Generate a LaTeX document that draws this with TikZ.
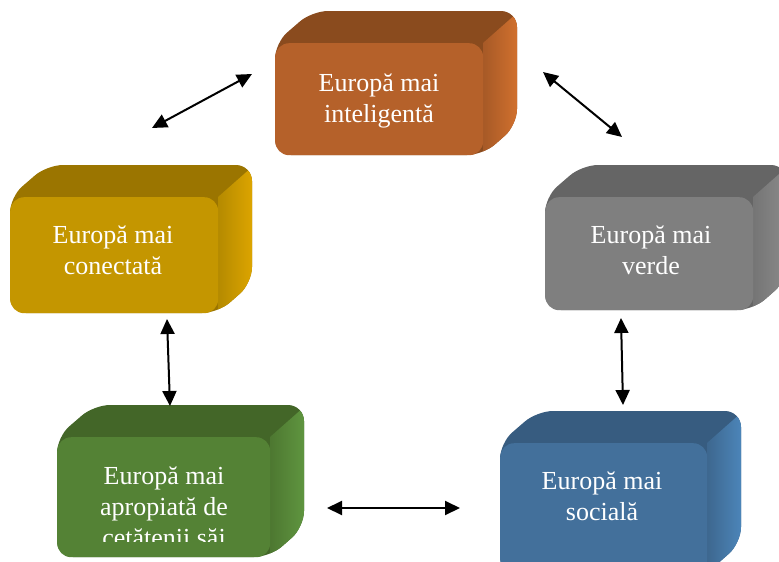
\documentclass[tikz,border=0pt]{standalone}
\usepackage{fontspec}
\setmainfont{Liberation Serif}
\usetikzlibrary{arrows.meta}
\definecolor{orF}{HTML}{B5612A}\definecolor{orT}{HTML}{8A4B1E}\definecolor{orS}{HTML}{D8742F}
\definecolor{goF}{HTML}{C49600}\definecolor{goT}{HTML}{9B7500}\definecolor{goS}{HTML}{E3A900}
\definecolor{grF}{HTML}{7F7F7F}\definecolor{grT}{HTML}{656565}\definecolor{grS}{HTML}{8E8E8E}
\definecolor{gnF}{HTML}{548235}\definecolor{gnT}{HTML}{436628}\definecolor{gnS}{HTML}{629A42}
\definecolor{blF}{HTML}{43709B}\definecolor{blT}{HTML}{375C80}\definecolor{blS}{HTML}{4E8AC0}
\tikzset{
  boxtext/.style={text=white, align=center, font=\fontsize{26}{31}\selectfont, inner sep=0pt},
  frontface/.style={draw=none, rounded corners=14pt, inner sep=0pt, anchor=north west},
  twoway/.style={{Triangle[length=15pt,width=14pt]}-{Triangle[length=15pt,width=14pt]}, line width=2pt, black},
}
% #1 name, #2 x, #3 y(top), #4 width, #5 height, #6 front, #7 top, #8 side
\newcommand{\cubebox}[8]{%
  \begin{scope}
    \path[fill=#7, rounded corners=16pt] (#2,{-#3-#5}) -- (#2,-#3) -- ({#2+37},{-#3+32}) -- ({#2+#4+34},{-#3+32}) -- ({#2+#4+34},{-#3-#5+30}) -- ({#2+#4},{-#3-#5}) -- cycle;
    \clip[rounded corners=16pt] (#2,{-#3-#5}) -- (#2,-#3) -- ({#2+37},{-#3+32}) -- ({#2+#4+34},{-#3+32}) -- ({#2+#4+34},{-#3-#5+30}) -- ({#2+#4},{-#3-#5}) -- cycle;
    \path[left color=#6!92!black, right color=#8] ({#2+#4},{-#3}) -- ({#2+#4+34},{-#3+30}) -- ({#2+#4+40},{-#3+30}) -- ({#2+#4+40},{-#3-#5}) -- ({#2+#4},{-#3-#5}) -- cycle;
  \end{scope}
  \node[frontface, fill=#6, minimum width=#4pt, minimum height=#5pt] (#1) at (#2,-#3) {};
}
\begin{document}
\begin{tikzpicture}[x=1pt,y=1pt]
\useasboundingbox (0,0) rectangle (779,-562);
\clip (0,0) rectangle (779,-562);
\fill[white] (0,0) rectangle (779,-562);

\cubebox{intel}{275}{43}{208}{112}{orF}{orT}{orS}
\cubebox{conect}{10}{197}{208}{116}{goF}{goT}{goS}
\cubebox{verde}{545}{197}{208}{113}{grF}{grT}{grS}
\cubebox{apro}{57}{437}{213}{120}{gnF}{gnT}{gnS}
\cubebox{social}{500}{443}{207}{130}{blF}{blT}{blS}

\node[boxtext] (intel-t) at (379,-101) {Europă mai\\inteligentă};
\node[boxtext] (conect-t) at (113,-250) {Europă mai\\conectată};
\node[boxtext] (verde-t) at (651,-250) {Europă mai\\verde};
\node[boxtext] (social-t) at (602,-496) {Europă mai\\socială};
\begin{scope}
  \clip (57,-437) rectangle (270,-541);
  \node[boxtext] (apro-t) at (164,-509) {Europă mai\\apropiată de\\cetățenii săi};
\end{scope}

\coordinate (a1) at (152,-128); \coordinate (a2) at (252,-74);
\coordinate (b1) at (543,-72);  \coordinate (b2) at (622,-137);
\coordinate (c1) at (167,-319); \coordinate (c2) at (170,-406);
\coordinate (d1) at (621,-318); \coordinate (d2) at (623,-405);
\coordinate (e1) at (327,-508); \coordinate (e2) at (460,-508);
\draw[twoway] (a1) -- (a2);
\draw[twoway] (b1) -- (b2);
\draw[twoway] (c1) -- (c2);
\draw[twoway] (d1) -- (d2);
\draw[twoway] (e1) -- (e2);
\end{tikzpicture}
\end{document}
